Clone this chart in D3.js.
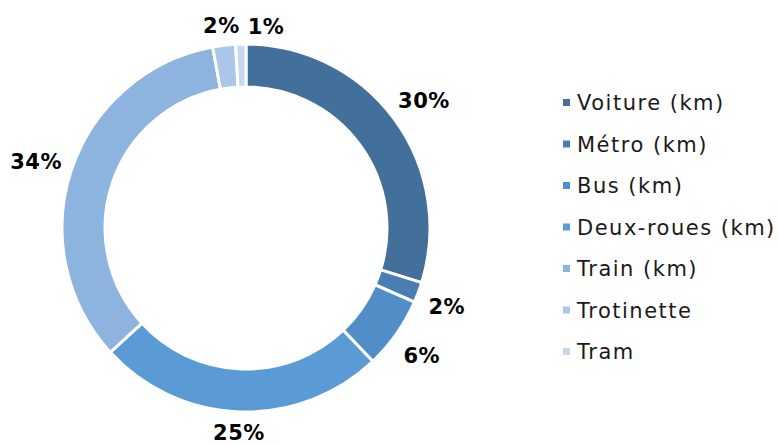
<!DOCTYPE html>
<html>
<head>
<meta charset="utf-8">
<script src="https://cdn.jsdelivr.net/npm/d3@7"></script>
<style>
  body { margin: 0; background: #fff; }
  svg { display: block; }
  .pct { font-family: "DejaVu Sans", sans-serif; font-weight: 700; font-size: 21px; letter-spacing: 0.5px; fill: #000; }
  .leg { font-family: "DejaVu Sans", sans-serif; font-size: 21px; letter-spacing: 1.5px; fill: #1a1a1a; }
</style>
</head>
<body>
<svg width="778" height="445"></svg>
<script>
// parts du trajet (en %)
const categories = ['Voiture (km)', 'Métro (km)', 'Bus (km)', 'Deux-roues (km)', 'Train (km)', 'Trotinette', 'Tram'];
const values = [29.8, 1.8, 6.3, 25.3, 33.9, 2.0, 0.9];
const colors = ['#436f9b', '#4a7eb3', '#518dc6', '#5b9bd5', '#8db3df', '#aac6e8', '#c8d9ef'];

const svg = d3.select('svg');
const height = +svg.attr('height');
const cx = 246, cy = 228;
const outerR = 184, innerR = 141;

const data = categories.map((c, i) => ({ cat: c, value: values[i], color: colors[i] }));
const total = d3.sum(values);

const pie = d3.pie().sort(null).value(d => d.value);
const arc = d3.arc().innerRadius(innerR).outerRadius(outerR);
const arcs = pie(data);

const g = svg.append('g').attr('transform', `translate(${cx},${cy})`);

g.selectAll('path')
    .data(arcs)
    .enter().append('path')
    .attr('d', arc)
    .attr('fill', d => d.data.color)
    .attr('stroke', '#fff')
    .attr('stroke-width', 3);

// etiquettes en dehors de l'anneau
const fmt = d3.format('.0%');
const labels = g.selectAll('text.pct')
    .data(arcs)
    .enter().append('text')
    .attr('class', 'pct')
    .attr('text-anchor', 'middle')
    .attr('dominant-baseline', 'central')
    .text(d => fmt(d.data.value / total));

const pos = [];
labels.each(function(d) {
    const bb = this.getBBox();
    const a = (d.startAngle + d.endAngle) / 2;
    const s = Math.sin(a), c = Math.cos(a);
    const ext = Math.abs(bb.width / 2 * s) + Math.abs(bb.height / 2 * c);
    const dist = outerR + 9 + ext;
    const y = Math.min(-dist * c + 4, height - cy - bb.height / 2);
    pos.push({ x: dist * s, y: y, w: bb.width, h: bb.height });
});

// si deux etiquettes se chevauchent, on pousse la suivante
for (let i = 1; i < pos.length; i++) {
    const a = pos[i - 1], b = pos[i];
    const ox = (a.w + b.w) / 2 + 8 - Math.abs(a.x - b.x);
    const oy = (a.h + b.h) / 2 - Math.abs(a.y - b.y);
    if (ox > 0 && oy > 0) b.x += (b.x >= a.x ? 1 : -1) * ox;
}
labels.attr('x', (d, i) => pos[i].x).attr('y', (d, i) => pos[i].y);

// legende
const leg = svg.append('g').attr('transform', 'translate(563,103)');
const item = leg.selectAll('g')
    .data(data)
    .enter().append('g')
    .attr('transform', (d, i) => `translate(0,${i * 41.5})`);

item.append('rect')
    .attr('x', 0)
    .attr('y', -4)
    .attr('width', 7)
    .attr('height', 7)
    .attr('fill', d => d.color);

item.append('text')
    .attr('class', 'leg')
    .attr('x', 14)
    .attr('y', 0)
    .attr('dominant-baseline', 'central')
    .text(d => d.cat);
</script>
</body>
</html>
